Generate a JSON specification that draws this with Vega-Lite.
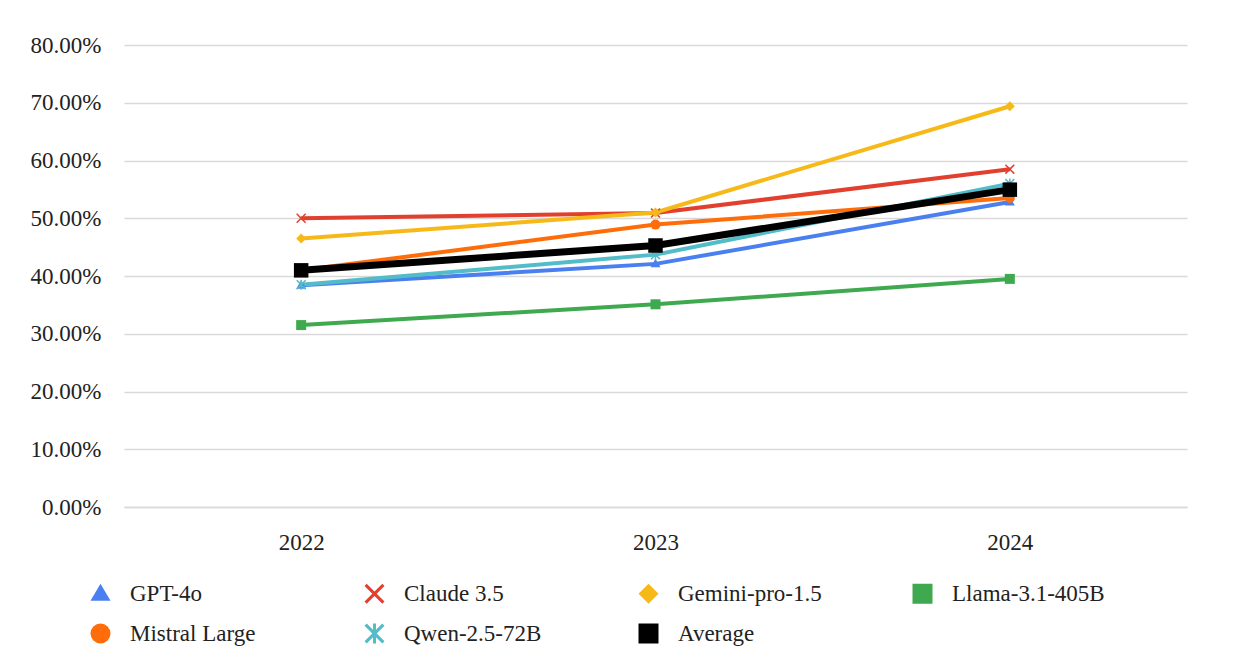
{
  "$schema": "https://vega.github.io/schema/vega-lite/v6.json",
  "description": "Accuracy by year for six LLMs plus their average",
  "width": 1063,
  "height": 462,
  "autosize": {"type": "none"},
  "padding": {"left": 124, "top": 45, "right": 48, "bottom": 161},
  "background": "white",
  "config": {
    "view": {"stroke": null},
    "font": "Liberation Serif",
    "axis": {"labelFont": "Liberation Serif", "labelFontSize": 23, "labelColor": "#222222", "ticks": false, "title": null},
    "legend": {"labelFont": "Liberation Serif", "labelFontSize": 23, "labelColor": "#222222"}
  },
  "data": {
    "values": [
      {"year": "2022", "model": "GPT-4o", "acc": 0.384},
      {"year": "2023", "model": "GPT-4o", "acc": 0.421},
      {"year": "2024", "model": "GPT-4o", "acc": 0.528},
      {"year": "2022", "model": "Claude 3.5", "acc": 0.500},
      {"year": "2023", "model": "Claude 3.5", "acc": 0.509},
      {"year": "2024", "model": "Claude 3.5", "acc": 0.585},
      {"year": "2022", "model": "Gemini-pro-1.5", "acc": 0.465},
      {"year": "2023", "model": "Gemini-pro-1.5", "acc": 0.510},
      {"year": "2024", "model": "Gemini-pro-1.5", "acc": 0.694},
      {"year": "2022", "model": "Llama-3.1-405B", "acc": 0.315},
      {"year": "2023", "model": "Llama-3.1-405B", "acc": 0.351},
      {"year": "2024", "model": "Llama-3.1-405B", "acc": 0.395},
      {"year": "2022", "model": "Mistral Large", "acc": 0.410},
      {"year": "2023", "model": "Mistral Large", "acc": 0.489},
      {"year": "2024", "model": "Mistral Large", "acc": 0.535},
      {"year": "2022", "model": "Qwen-2.5-72B", "acc": 0.385},
      {"year": "2023", "model": "Qwen-2.5-72B", "acc": 0.437},
      {"year": "2024", "model": "Qwen-2.5-72B", "acc": 0.560},
      {"year": "2022", "model": "Average", "acc": 0.4098},
      {"year": "2023", "model": "Average", "acc": 0.4528},
      {"year": "2024", "model": "Average", "acc": 0.5495}
    ]
  },
  "encoding": {
    "x": {
      "field": "year",
      "type": "ordinal",
      "scale": {"type": "point", "padding": 0.5},
      "axis": {"labelAngle": 0, "labelPadding": 24, "domain": true, "domainColor": "#d9d9d9", "domainWidth": 1.5, "grid": false}
    },
    "y": {
      "field": "acc",
      "type": "quantitative",
      "scale": {"domain": [0, 0.8]},
      "axis": {"format": ".2%", "values": [0, 0.1, 0.2, 0.3, 0.4, 0.5, 0.6, 0.7, 0.8], "labelOverlap": false, "domain": false, "labelPadding": 23, "gridColor": "#d9d9d9", "gridWidth": 1.5}
    },
    "color": {
      "field": "model",
      "type": "nominal",
      "title": null,
      "scale": {
        "domain": ["GPT-4o", "Claude 3.5", "Gemini-pro-1.5", "Llama-3.1-405B", "Mistral Large", "Qwen-2.5-72B", "Average"],
        "range": ["#4a7ff0", "#e2402f", "#f6b918", "#3ea94f", "#ff6d0a", "#52bcc8", "#000000"]
      },
      "legend": {
        "orient": "none",
        "legendX": -35,
        "legendY": 537,
        "columns": 4,
        "direction": "horizontal",
        "symbolSize": 400,
        "symbolStrokeWidth": 0,
        "labelOffset": 18,
        "columnPadding": 80,
        "rowPadding": 16,
        "gridAlign": "all",
        "symbolType": {"expr": "{'GPT-4o': 'M-2.6,-0.2L2.6,-0.2L2.6,0.2L-2.6,0.2ZM0,-0.5L0.5,0.35L-0.5,0.35Z', 'Claude 3.5': 'M-2.6,-0.2L2.6,-0.2L2.6,0.2L-2.6,0.2ZM-0.45,-0.35L-0.35,-0.45L0,-0.1L0.35,-0.45L0.45,-0.35L0.1,0L0.45,0.35L0.35,0.45L0,0.1L-0.35,0.45L-0.45,0.35L-0.1,0Z', 'Gemini-pro-1.5': 'M-2.6,-0.2L2.6,-0.2L2.6,0.2L-2.6,0.2ZM0,-0.5L0.5,0L0,0.5L-0.5,0Z', 'Llama-3.1-405B': 'M-2.6,-0.2L2.6,-0.2L2.6,0.2L-2.6,0.2ZM-0.4,-0.4L0.4,-0.4L0.4,0.4L-0.4,0.4Z', 'Mistral Large': 'M-2.6,-0.2L2.6,-0.2L2.6,0.2L-2.6,0.2ZM-0.4,0A0.4,0.4,0,1,1,0.4,0A0.4,0.4,0,1,1,-0.4,0Z', 'Qwen-2.5-72B': 'M-2.6,-0.2L2.6,-0.2L2.6,0.2L-2.6,0.2ZM-0.45,-0.35L-0.35,-0.45L0,-0.1L0.35,-0.45L0.45,-0.35L0.1,0L0.45,0.35L0.35,0.45L0,0.1L-0.35,0.45L-0.45,0.35L-0.1,0ZM-0.08,-0.5L0.08,-0.5L0.08,0.5L-0.08,0.5Z', 'Average': 'M-2.6,-0.3L2.6,-0.3L2.6,0.3L-2.6,0.3ZM-0.65,-0.65L0.65,-0.65L0.65,0.65L-0.65,0.65Z'}[datum.value]"}
      }
    }
  },
  "layer": [
    {
      "description": "Model lines",
      "transform": [{"filter": "datum.model !== 'Average'"}],
      "mark": {"type": "line", "strokeWidth": 4}
    },
    {
      "description": "Average line",
      "transform": [{"filter": "datum.model === 'Average'"}],
      "mark": {"type": "line", "strokeWidth": 7}
    },
    {
      "description": "Markers",
      "mark": {"type": "point", "filled": true, "opacity": 1},
      "encoding": {
        "shape": {
          "field": "model",
          "type": "nominal",
          "legend": null,
          "scale": {
            "domain": ["GPT-4o", "Claude 3.5", "Gemini-pro-1.5", "Llama-3.1-405B", "Mistral Large", "Qwen-2.5-72B", "Average"],
            "range": [
              "M0,-1L1,0.7L-1,0.7Z",
              "M-1,-0.78L-0.78,-1L0,-0.22L0.78,-1L1,-0.78L0.22,0L1,0.78L0.78,1L0,0.22L-0.78,1L-1,0.78L-0.22,0Z",
              "M0,-1L1,0L0,1L-1,0Z",
              "square",
              "circle",
              "M-1,-0.78L-0.78,-1L0,-0.22L0.78,-1L1,-0.78L0.22,0L1,0.78L0.78,1L0,0.22L-0.78,1L-1,0.78L-0.22,0ZM-0.15,-1L0.15,-1L0.15,1L-0.15,1Z",
              "square"
            ]
          }
        },
        "size": {
          "condition": {"test": "datum.model === 'Average'", "value": 210},
          "value": 100
        }
      }
    }
  ]
}
